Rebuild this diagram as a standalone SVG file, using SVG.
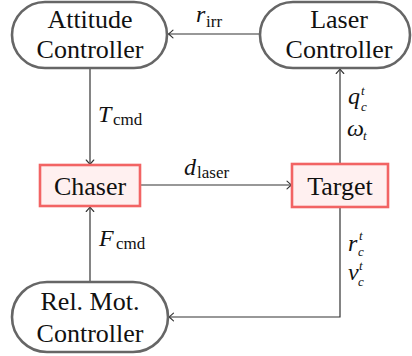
<svg xmlns="http://www.w3.org/2000/svg" width="412" height="356" viewBox="0 0 412 356">
  <style>
    .ctrl { fill: #ffffff; stroke: #666666; stroke-width: 2.6; }
    .body { fill: #fff0f0; stroke: #f26464; stroke-width: 2.6; }
    text { font-family: "Liberation Serif", "DejaVu Serif", serif; fill: #111111; }
    .lbl { font-size: 26px; text-anchor: middle; }
    .math { font-size: 24px; font-style: italic; }
    .sub { font-size: 17px; }
    .subi { font-size: 13px; font-style: italic; }
    .wire { fill: none; stroke: #333333; stroke-width: 1.2; marker-end: url(#tip); }
  </style>
  <defs>
    <marker id="tip" viewBox="-6 -5 8 10" refX="0" refY="0" markerWidth="8" markerHeight="10" markerUnits="userSpaceOnUse" orient="auto">
      <path d="M -4.5 -3.8 Q -1.5 -1 0 0 Q -1.5 1 -4.5 3.8" fill="none" stroke="#333333" stroke-width="1.1" stroke-linecap="round"/>
    </marker>
  </defs>

  <!-- connectors -->
  <g id="connectors">
    <path class="wire" d="M 260 34 L 168.5 34"/>
    <path class="wire" d="M 90 68.5 L 90 164.5"/>
    <path class="wire" d="M 141 185 L 291.5 185"/>
    <path class="wire" d="M 340 163.5 L 340 69"/>
    <path class="wire" d="M 90 281.5 L 90 207"/>
    <path class="wire" d="M 340 207.5 L 340 317 L 169 317"/>
  </g>

  <!-- connector labels -->
  <g id="labels">
    <text class="math" x="196" y="22">r</text><text class="sub" x="206" y="27">irr</text>
    <text class="math" x="184" y="175">d</text><text class="sub" x="197" y="178">laser</text>
    <text class="math" x="98" y="122">T</text><text class="sub" x="113" y="125">cmd</text>
    <text class="math" x="99" y="246">F</text><text class="sub" x="116" y="249">cmd</text>
    <text class="math" x="348" y="104">q</text><text class="subi" x="361" y="95">t</text><text class="subi" x="361" y="111">c</text>
    <text class="math" x="347" y="136">ω</text><text class="subi" x="363" y="140">t</text>
    <text class="math" x="348" y="251">r</text><text class="subi" x="359" y="240">t</text><text class="subi" x="358" y="256">c</text>
    <text class="math" x="348" y="280">v</text><text class="subi" x="359" y="270">t</text><text class="subi" x="358" y="286">c</text>
  </g>

  <g id="attitude-controller">
    <rect class="ctrl" x="12" y="2" width="155" height="66" rx="33" ry="33"/>
    <text class="lbl" x="90" y="28">Attitude</text>
    <text class="lbl" x="90" y="58">Controller</text>
  </g>

  <g id="laser-controller">
    <rect class="ctrl" x="260" y="2" width="150" height="66" rx="33" ry="33"/>
    <text class="lbl" x="339" y="28">Laser</text>
    <text class="lbl" x="339" y="58">Controller</text>
  </g>

  <g id="chaser">
    <rect class="body" x="40" y="165" width="100" height="41"/>
    <text class="lbl" x="90" y="195">Chaser</text>
  </g>

  <g id="target">
    <rect class="body" x="292" y="164" width="96" height="43"/>
    <text class="lbl" x="340" y="195">Target</text>
  </g>

  <g id="rel-mot-controller">
    <rect class="ctrl" x="12" y="282" width="156" height="70" rx="35" ry="35"/>
    <text class="lbl" x="90" y="310">Rel. Mot.</text>
    <text class="lbl" x="90" y="342">Controller</text>
  </g>
</svg>
